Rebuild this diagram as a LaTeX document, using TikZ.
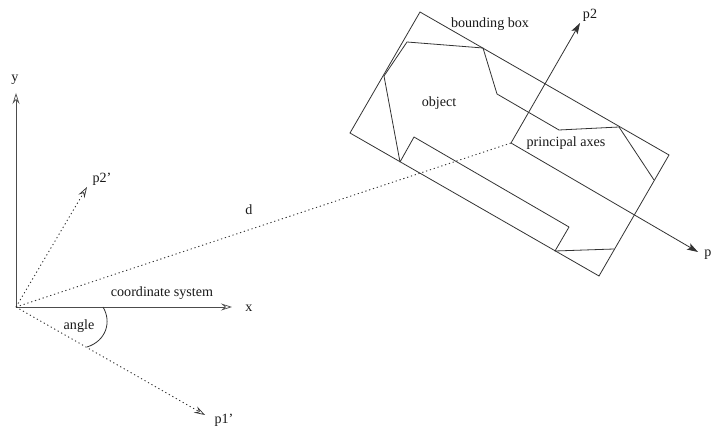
\documentclass[tikz,border=0pt]{standalone}
\usepackage{fontspec}
\setmainfont{Liberation Serif}
\usetikzlibrary{arrows.meta}
\tikzset{
  lbl/.style={inner sep=0pt,font=\fontsize{14.1}{16}\selectfont,text=black!90},
  ln/.style={draw=black!80,line width=0.8pt},
  axisline/.style={draw=black!70,line width=0.9pt},
  dots/.style={draw=black!80,line width=0.9pt,dash pattern=on 1.2pt off 2.8pt},
  openhead/.style={-{Stealth[open,length=11pt,width=7pt,inset=4pt,line width=0.7pt,fill=white]}},
  fillhead/.style={-{Stealth[length=11pt,width=7pt,inset=2.5pt]}}
}
\begin{document}
\begin{tikzpicture}[x=1pt,y=-1pt]
\useasboundingbox (0,0) rectangle (712,427);
\fill[white] (0,0) rectangle (712,427);
% coordinates
\coordinate (o) at (16,307);
\coordinate (ytip) at (16,93);
\coordinate (xtip) at (232,307);
\coordinate (p2ptip) at (87,187);
\coordinate (p1ptip) at (205,415);
\coordinate (c) at (511,143);
\coordinate (p2tip) at (580,23);
\coordinate (p1tip) at (698,252);
\coordinate (b1) at (420,12);
\coordinate (b2) at (669,155);
\coordinate (b3) at (599,276);
\coordinate (b4) at (350,133);
\coordinate (a1) at (384,76);
\coordinate (a2) at (407,42);
\coordinate (a3) at (483,48);
\coordinate (a4) at (497,94);
\coordinate (a5) at (559,130);
\coordinate (a6) at (619,127);
\coordinate (a7) at (654,180);
\coordinate (a8) at (614,249);
\coordinate (a9) at (555,251);
\coordinate (a10) at (569,227);
\coordinate (a11) at (414,137);
\coordinate (a12) at (400,162);
\coordinate (ang1) at (103,307);
\coordinate (ang2) at (87,347);
% box and object (the object's edge a7-a8 lies on the box edge)
\draw[ln] (b1) -- (b2) -- (b3) -- (b4) -- cycle;
\draw[ln,line join=round] (a8) -- (a9) -- (a10) -- (a11) -- (a12) -- (a1) -- (a2) -- (a3) -- (a4) -- (a5) -- (a6) -- (a7);
% principal axes
\draw[ln,fillhead] (c) -- (p2tip);
\draw[ln,fillhead] (c) -- (p1tip);
% coordinate system
\draw[axisline,openhead] (o) -- (ytip);
\draw[axisline,openhead] (o) -- (xtip);
\draw[dots] (o) -- (c);
\draw[dots,openhead] (o) -- (p2ptip);
\draw[dots,openhead] (o) -- (p1ptip);
\draw[ln] (ang1) .. controls (112,322) and (106,341) .. (ang2);
% labels
\node[lbl] (ly) at (15,80) {y};
\node[lbl] (lx) at (249,308) {x};
\node[lbl] (lp2p) at (102,179) {p2'};
\node[lbl] (lp1p) at (224,420) {p1'};
\node[lbl] (ld) at (249,210) {d};
\node[lbl] (lcs) at (162,293) {coordinate system};
\node[lbl] (lang) at (79,326) {angle};
\node[lbl] (lobj) at (439,103) {object};
\node[lbl] (lbb) at (490,24) {bounding box};
\node[lbl] (lpa) at (566,143) {principal axes};
\node[lbl] (lp2) at (590,15) {p2};
\node[lbl] (lp) at (708,255) {p};
\end{tikzpicture}
\end{document}
